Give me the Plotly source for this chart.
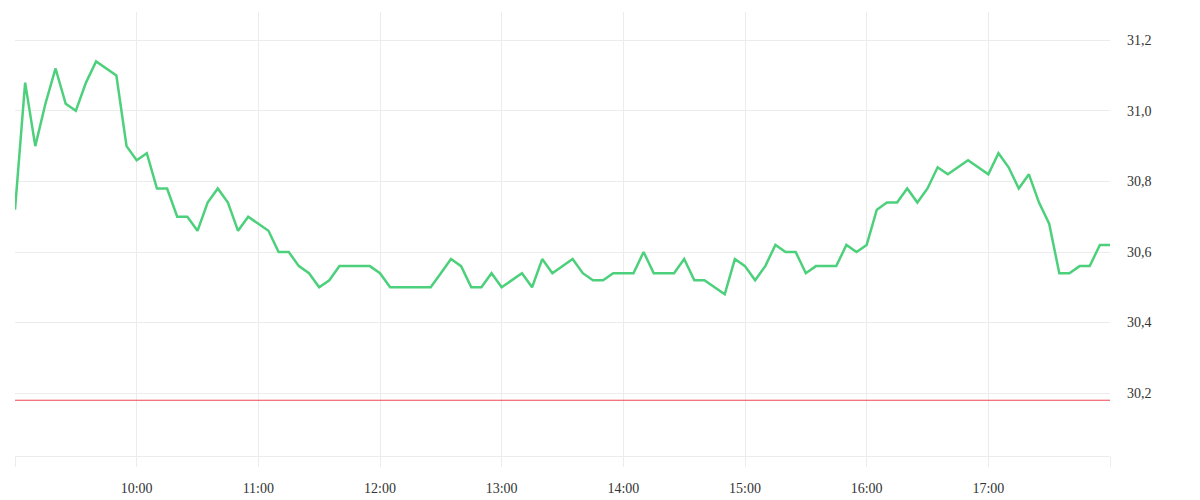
import pandas as pd
import plotly.graph_objects as go

# 5-minute prices, 09:00 .. 18:00
start_time = "2024-01-02 09:00"
end_time = "2024-01-02 18:00"
prices = [
    30.72, 31.08, 30.90, 31.02, 31.12, 31.02, 31.00, 31.08, 31.14, 31.12,
    31.10, 30.90, 30.86, 30.88, 30.78, 30.78, 30.70, 30.70, 30.66, 30.74,
    30.78, 30.74, 30.66, 30.70, 30.68, 30.66, 30.60, 30.60, 30.56, 30.54,
    30.50, 30.52, 30.56, 30.56, 30.56, 30.56, 30.54, 30.50, 30.50, 30.50,
    30.50, 30.50, 30.54, 30.58, 30.56, 30.50, 30.50, 30.54, 30.50, 30.52,
    30.54, 30.50, 30.58, 30.54, 30.56, 30.58, 30.54, 30.52, 30.52, 30.54,
    30.54, 30.54, 30.60, 30.54, 30.54, 30.54, 30.58, 30.52, 30.52, 30.50,
    30.48, 30.58, 30.56, 30.52, 30.56, 30.62, 30.60, 30.60, 30.54, 30.56,
    30.56, 30.56, 30.62, 30.60, 30.62, 30.72, 30.74, 30.74, 30.78, 30.74,
    30.78, 30.84, 30.82, 30.84, 30.86, 30.84, 30.82, 30.88, 30.84, 30.78,
    30.82, 30.74, 30.68, 30.54, 30.54, 30.56, 30.56, 30.62, 30.62,
]
reference_level = 30.18
tick_hours = ["09:00", "10:00", "11:00", "12:00", "13:00", "14:00",
              "15:00", "16:00", "17:00", "18:00"]
tick_labels = ["", "10:00", "11:00", "12:00", "13:00", "14:00",
               "15:00", "16:00", "17:00", ""]
y_range = [30.022, 31.28]

times = pd.date_range(start_time, end_time, freq="5min")
tick_vals = [pd.Timestamp("2024-01-02 " + h) for h in tick_hours]

fig = go.Figure()
fig.add_trace(go.Scatter(
    x=[times[0], times[-1]], y=[reference_level, reference_level],
    mode="lines", line=dict(color="#ef4550", width=1),
    hoverinfo="skip", showlegend=False,
))
fig.add_trace(go.Scatter(
    x=times, y=prices, mode="lines",
    line=dict(color="#4dd07c", width=2.5),
    showlegend=False,
))

font = dict(family="Liberation Serif", size=14, color="#333333")

# the page body has an 8px default margin, so the figure is 8px smaller
fig.update_layout(
    width=1192, height=492,
    margin=dict(l=7, r=90, t=4, b=42),
    paper_bgcolor="white", plot_bgcolor="white",
    separators=", ",
    font=font,
    xaxis=dict(
        range=[times[0], times[-1]],
        tickvals=tick_vals, ticktext=tick_labels,
        showgrid=True, gridcolor="#ececec", gridwidth=1,
        ticks="outside", ticklen=10, tickcolor="#ececec", tickwidth=1,
        showline=True, linecolor="#ececec", linewidth=1,
        zeroline=False, ticklabelstandoff=9,
        tickfont=font,
    ),
    yaxis=dict(
        side="right", range=y_range,
        tick0=30.2, dtick=0.2, tickformat=".1f",
        showgrid=True, gridcolor="#ececec", gridwidth=1,
        zeroline=False, showline=False, ticks="",
        ticklabelstandoff=16,
        tickfont=font,
    ),
)

fig.write_html("out.html")
